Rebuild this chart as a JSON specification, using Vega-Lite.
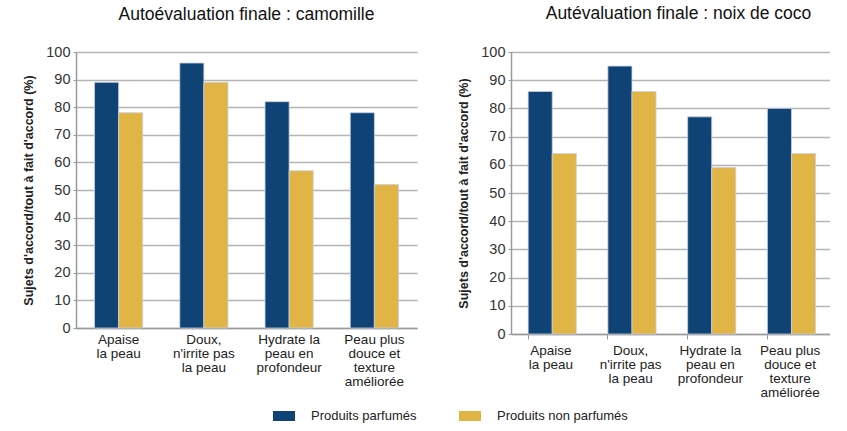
{
  "$schema": "https://vega.github.io/schema/vega-lite/v6.json",
  "padding": {"left": 22, "top": 4, "right": 0, "bottom": 0},
  "background": "white",
  "config": {
    "font": "Liberation Sans",
    "view": {"stroke": null},
    "axis": {"labelFont": "Liberation Sans", "titleFont": "Liberation Sans"},
    "concat": {"spacing": 40}
  },
  "datasets": {
    "camomille": [
      {"critere": "Apaise la peau", "produit": "Produits parfumés", "pct": 89},
      {"critere": "Apaise la peau", "produit": "Produits non parfumés", "pct": 78},
      {"critere": "Doux, n'irrite pas la peau", "produit": "Produits parfumés", "pct": 96},
      {"critere": "Doux, n'irrite pas la peau", "produit": "Produits non parfumés", "pct": 89},
      {"critere": "Hydrate la peau en profondeur", "produit": "Produits parfumés", "pct": 82},
      {"critere": "Hydrate la peau en profondeur", "produit": "Produits non parfumés", "pct": 57},
      {"critere": "Peau plus douce et texture améliorée", "produit": "Produits parfumés", "pct": 78},
      {"critere": "Peau plus douce et texture améliorée", "produit": "Produits non parfumés", "pct": 52}
    ],
    "coco": [
      {"critere": "Apaise la peau", "produit": "Produits parfumés", "pct": 86},
      {"critere": "Apaise la peau", "produit": "Produits non parfumés", "pct": 64},
      {"critere": "Doux, n'irrite pas la peau", "produit": "Produits parfumés", "pct": 95},
      {"critere": "Doux, n'irrite pas la peau", "produit": "Produits non parfumés", "pct": 86},
      {"critere": "Hydrate la peau en profondeur", "produit": "Produits parfumés", "pct": 77},
      {"critere": "Hydrate la peau en profondeur", "produit": "Produits non parfumés", "pct": 59},
      {"critere": "Peau plus douce et texture améliorée", "produit": "Produits parfumés", "pct": 80},
      {"critere": "Peau plus douce et texture améliorée", "produit": "Produits non parfumés", "pct": 64}
    ]
  },
  "hconcat": [
    {
      "data": {"name": "camomille"},
      "width": 341,
      "height": 276,
      "title": {"text": "Autoévaluation finale : camomille", "fontSize": 17.5, "fontWeight": "normal", "color": "#111", "anchor": "middle", "offset": 21, "font": "Liberation Sans"},
      "mark": {"type": "bar", "stroke": "#c9cfe0", "strokeWidth": 0.8},
      "encoding": {
        "x": {
          "field": "critere", "type": "nominal", "sort": null,
          "scale": {"paddingInner": 0.435, "paddingOuter": 0.2175},
          "axis": {
            "title": null, "labelAngle": 0, "labelFontSize": 13.5, "labelColor": "#222",
            "labelLineHeight": 14, "labelPadding": 4, "ticks": false,
            "domainColor": "#9a9a9a", "domainWidth": 1.5, "grid": false,
            "labelExpr": "datum.value == 'Apaise la peau' ? ['Apaise', 'la peau'] : datum.value == \"Doux, n'irrite pas la peau\" ? ['Doux,', \"n'irrite pas\", 'la peau'] : datum.value == 'Hydrate la peau en profondeur' ? ['Hydrate la', 'peau en', 'profondeur'] : ['Peau plus', 'douce et', 'texture', 'améliorée']"
          }
        },
        "xOffset": {"field": "produit", "type": "nominal", "sort": ["Produits parfumés", "Produits non parfumés"]},
        "y": {
          "field": "pct", "type": "quantitative",
          "scale": {"domain": [0, 100], "nice": false},
          "axis": {
            "title": "Sujets d'accord/tout à fait d'accord (%)", "titleFontSize": 12.5, "titleFontWeight": "bold", "titleColor": "#222", "titlePadding": 10,
            "values": [0, 10, 20, 30, 40, 50, 60, 70, 80, 90, 100],
            "labelFontSize": 14.5, "labelColor": "#333", "labelPadding": 3,
            "tickSize": 3, "tickColor": "#9a9a9a", "domainColor": "#9a9a9a", "domainWidth": 1.5,
            "gridColor": "#b4b4b4", "gridWidth": 1.5
          }
        },
        "color": {
          "field": "produit", "type": "nominal",
          "scale": {"domain": ["Produits parfumés", "Produits non parfumés"], "range": ["#0f4375", "#e0b445"]},
          "legend": {
            "title": null, "orient": "none", "direction": "horizontal", "legendX": 188, "legendY": 344,
            "symbolType": "M-0.55,-0.25H0.55V0.25H-0.55Z", "symbolSize": 1600, "symbolStrokeWidth": 0,
            "labelFontSize": 13, "labelColor": "#222", "labelOffset": 7, "columnPadding": 33, "labelFont": "Liberation Sans"
          }
        }
      }
    },
    {
      "data": {"name": "coco"},
      "width": 319,
      "height": 282,
      "title": {"text": "Autévaluation finale : noix de coco", "fontSize": 17.5, "fontWeight": "normal", "color": "#111", "anchor": "middle", "offset": 22, "dx": 8, "font": "Liberation Sans"},
      "mark": {"type": "bar", "stroke": "#c9cfe0", "strokeWidth": 0.8},
      "encoding": {
        "x": {
          "field": "critere", "type": "nominal", "sort": null,
          "scale": {"paddingInner": 0.43, "paddingOuter": 0.215},
          "axis": {
            "title": null, "labelAngle": 0, "labelFontSize": 13.5, "labelColor": "#222",
            "labelLineHeight": 14, "labelPadding": 4, "ticks": true, "bandPosition": 0, "tickSize": 5, "tickColor": "#9a9a9a",
            "domainColor": "#9a9a9a", "domainWidth": 1.5, "grid": false,
            "labelExpr": "datum.value == 'Apaise la peau' ? ['Apaise', 'la peau'] : datum.value == \"Doux, n'irrite pas la peau\" ? ['Doux,', \"n'irrite pas\", 'la peau'] : datum.value == 'Hydrate la peau en profondeur' ? ['Hydrate la', 'peau en', 'profondeur'] : ['Peau plus', 'douce et', 'texture', 'améliorée']"
          }
        },
        "xOffset": {"field": "produit", "type": "nominal", "sort": ["Produits parfumés", "Produits non parfumés"]},
        "y": {
          "field": "pct", "type": "quantitative",
          "scale": {"domain": [0, 100], "nice": false},
          "axis": {
            "title": "Sujets d'accord/tout à fait d'accord (%)", "titleFontSize": 12.5, "titleFontWeight": "bold", "titleColor": "#222", "titlePadding": 10,
            "values": [0, 10, 20, 30, 40, 50, 60, 70, 80, 90, 100],
            "labelFontSize": 14.5, "labelColor": "#333", "labelPadding": 3,
            "tickSize": 3, "tickColor": "#9a9a9a", "domainColor": "#9a9a9a", "domainWidth": 1.5,
            "gridColor": "#b4b4b4", "gridWidth": 1.5
          }
        },
        "color": {
          "field": "produit", "type": "nominal",
          "scale": {"domain": ["Produits parfumés", "Produits non parfumés"], "range": ["#0f4375", "#e0b445"]}
        }
      }
    }
  ]
}
